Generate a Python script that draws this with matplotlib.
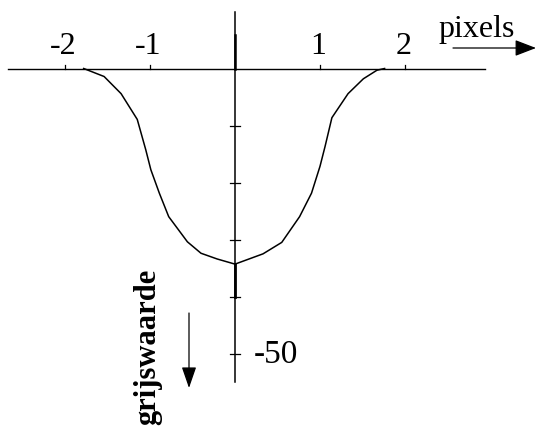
import matplotlib
matplotlib.use("Agg")
import matplotlib.pyplot as plt

# Data
x_pixels = [-1.78, -1.54, -1.34, -1.15, -1.05, -0.99, -0.89, -0.78, -0.56, -0.40, -0.21, 0.0,
            0.33, 0.55, 0.76, 0.90, 1.00, 1.06, 1.14, 1.33, 1.51, 1.67, 1.76]
grey_values = [0.0, -1.4, -4.4, -8.9, -14.2, -17.7, -21.8, -25.9, -30.3, -32.3, -33.3, -34.2,
               -32.4, -30.4, -25.9, -21.8, -17.1, -13.6, -8.6, -4.4, -1.8, -0.3, 0.0]
x_ticks = [-2, -1, 1, 2]
x_tick_labels = ["-2", "-1", "1", "2"]
y_ticks = [-10, -20, -30, -40, -50]
y_label_value = -50
x_title = "pixels"
y_title = "grijswaarde"

W, H = 536, 432
fig = plt.figure(figsize=(W / 100, H / 100), dpi=100)
ax = fig.add_axes([0, 0, 1, 1])
ax.set_axis_off()

x0px, unit_x = 235, 85.0
y0px, unit_y = 68.5, 5.72
ax.set_xlim(-x0px / unit_x, (W - x0px) / unit_x)
ax.set_ylim(-(H - y0px) / unit_y, y0px / unit_y)

serif = ["Liberation Serif", "DejaVu Serif"]

# axes lines
ax.plot([-(x0px - 8) / unit_x, (485 - x0px) / unit_x], [0, 0], color="black", lw=1.0)
ax.plot([0, 0], [-(382 - y0px) / unit_y, (y0px - 12) / unit_y], color="black", lw=1.1)
ax.plot([0, 0], [-34.2, -40], color="black", lw=2.0)
ax.plot([0, 0], [0, (y0px - 35) / unit_y], color="black", lw=1.8)

# x ticks
for t, lab in zip(x_ticks, x_tick_labels):
    ax.plot([t, t], [0, 0.6], color="black", lw=0.9)
    ax.text(t - 0.02, 1.3, lab, ha="center", va="bottom", fontsize=23, family=serif)

# y ticks
for t in y_ticks:
    ax.plot([-5 / unit_x, 5 / unit_x], [t, t], color="black", lw=0.9)
ax.text(19 / unit_x, y_label_value, str(y_label_value), ha="left", va="center",
        fontsize=24, family=serif)

# curve
ax.plot(x_pixels, grey_values, color="black", lw=1.1)

# x title with arrow
ax.text((477 - x0px) / unit_x, (y0px - 30) / unit_y, x_title, ha="center", va="center",
        fontsize=23, family=serif)
ax.annotate("", xy=((536 - x0px) / unit_x, (y0px - 48) / unit_y),
            xytext=((453 - x0px) / unit_x, (y0px - 48) / unit_y),
            arrowprops=dict(arrowstyle="-|>,head_length=1.3,head_width=0.5",
                        color="black", lw=0.9, shrinkA=0, shrinkB=0))

# y title with arrow
ax.text((148 - x0px) / unit_x, -(347 - y0px) / unit_y, y_title, ha="center", va="center",
        rotation=90, fontsize=22, fontweight="bold", family=serif)
ax.annotate("", xy=((189 - x0px) / unit_x, -(388 - y0px) / unit_y),
            xytext=((189 - x0px) / unit_x, -(313 - y0px) / unit_y),
            arrowprops=dict(arrowstyle="-|>,head_length=1.3,head_width=0.45",
                        color="black", lw=0.9, shrinkA=0, shrinkB=0))

fig.savefig("out.png", dpi=100)
